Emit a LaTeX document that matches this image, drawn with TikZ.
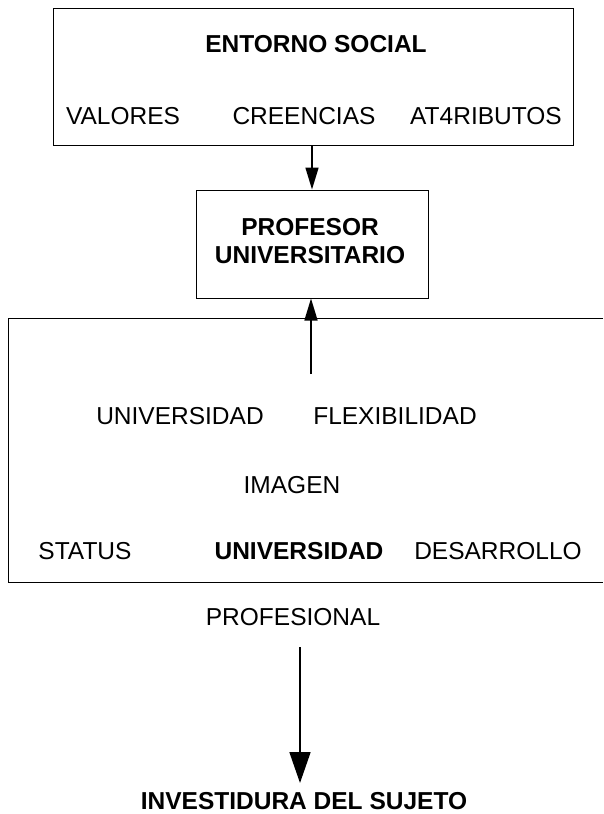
\documentclass[tikz,border=0pt]{standalone}
\usepackage{fontspec}
\setmainfont{Liberation Sans}
\usetikzlibrary{arrows.meta}
\begin{document}
\begin{tikzpicture}[x=1pt,y=-1pt,
  txt/.style={inner sep=0pt, anchor=center, font=\fontsize{24.5}{28}\selectfont},
  btxt/.style={txt, font=\fontsize{24.5}{28}\selectfont\bfseries},
  boxline/.style={draw, line width=1pt, inner sep=0pt},
  arrsmall/.style={line width=1.6pt, -{Triangle[length=22pt,width=13pt]}},
  arrbig/.style={line width=1.8pt, -{Triangle[length=31pt,width=21pt]}}]
\useasboundingbox (0,0) rectangle (603,814);
% top box
\node[boxline, minimum width=520pt, minimum height=137pt] (social) at (313.5,76.5) {};
\node[btxt] (entorno) at (316,44) {ENTORNO SOCIAL};
\node[txt] (valores) at (123,116) {VALORES};
\node[txt] (creencias) at (304,116) {CREENCIAS};
\node[txt] (atributos) at (486,116) {AT4RIBUTOS};
% profesor box
\node[boxline, minimum width=232pt, minimum height=108pt] (prof) at (312,244) {};
\node[btxt, align=center] (proftxt) at (310,241) {PROFESOR\\UNIVERSITARIO};
% big open box
\coordinate (bbtr) at (603,318);
\coordinate (bbtl) at (8,318);
\coordinate (bbbl) at (8,582);
\coordinate (bbbr) at (603,582);
\draw[line width=1pt] (bbtr) -- (bbtl) -- (bbbl) -- (bbbr);
\node[txt] (univ1) at (180,416) {UNIVERSIDAD};
\node[txt] (flex) at (395,416) {FLEXIBILIDAD};
\node[txt] (imagen) at (292,485) {IMAGEN};
\node[txt] (status) at (85,551) {STATUS};
\node[btxt] (univ2) at (299,551) {UNIVERSIDAD};
\node[txt] (desarrollo) at (498,551) {DESARROLLO};
\coordinate (upstart) at (311,374);
% bottom
\node[txt] (profesional) at (293,617) {PROFESIONAL};
\coordinate (downstart) at (300,647);
\coordinate (downend) at (300,783);
\node[btxt] (investidura) at (304,801) {INVESTIDURA DEL SUJETO};
% connectors
\draw[arrsmall] (prof.north |- social.south) -- (prof.north);
\draw[arrsmall] (upstart) -- (upstart |- prof.south);
\draw[arrbig] (downstart) -- (downend);
\end{tikzpicture}
\end{document}
